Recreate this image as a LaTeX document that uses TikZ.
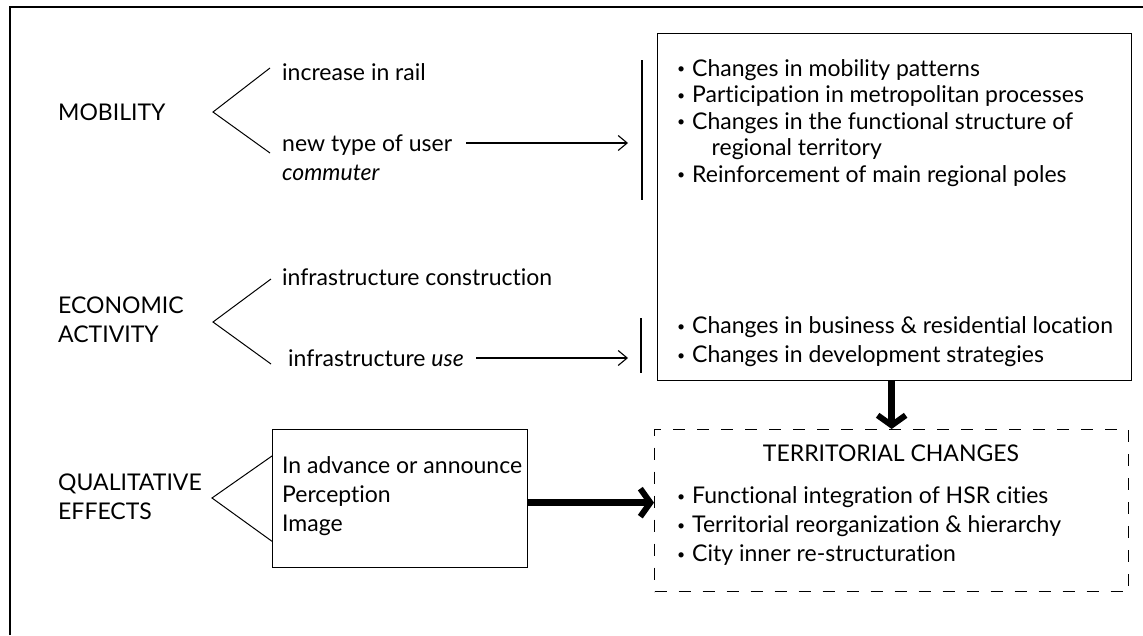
\documentclass[tikz,border=0pt]{standalone}
\usepackage{xcolor}
\usepackage{fontspec}
\setmainfont{Lato}[Ligatures=NoCommon]
\usetikzlibrary{shapes, arrows.meta, positioning}

\newcommand{\dotitem}{\raisebox{2.5pt}{\fontsize{14}{14}\selectfont\textbullet}\hspace{0.3em}}

\tikzset{
  thin arrow/.style={-{Straight Barb[length=9pt,width=15pt]}, line width=1.1pt},
  big arrow/.style={-{Straight Barb[length=10pt,width=28pt,line width=6pt]}, line width=7pt},
  forkline/.style={line width=1pt},
  barline/.style={line width=1.3pt},
}

\begin{document}
\begin{tikzpicture}[x=1pt,y=-1pt]
        \useasboundingbox (0,0) rectangle (1143,635);
        % only the top and left sides of the frame are in the picture
        \draw[line width=2.5pt] (10,635) -- (10,7) -- (1143,7);
        \begin{scope}[every node/.style={draw,line width=1.3pt,inner sep=0pt,anchor=north west}]
          \node[minimum width=474pt,minimum height=347pt] (imp) at (657,33) {};
          \node[minimum width=255pt,minimum height=138pt] (qbox) at (272,429) {};
          \node[dash pattern=on 12pt off 12pt,minimum width=474pt,minimum height=162pt] (terr) at (654,429) {};
        \end{scope}
        \begin{scope}[every node/.style={font=\fontsize{23}{29}\selectfont,inner sep=0pt,align=left,anchor=west}]
          \node (mob) at (58,112) {MOBILITY};
          \node (rail) at (282,72) {increase in rail};
          \node (user) at (282,145) {new type of user};
          \node (comm) at (282,173) {\itshape commuter};
          \node (eco) at (58,320) {ECONOMIC\\ACTIVITY};
          \node (cons) at (282,277) {infrastructure construction};
          \node (use) at (288,358) {infrastructure \textit{use}};
          \node (qual) at (58,497) {QUALITATIVE\\EFFECTS};
          \node (adv) at (282,496) {In advance or announce\\Perception\\Image};
          \node[font=\fontsize{23}{26.5}\selectfont] (list1) at (677,123) {%
            \dotitem Changes in mobility patterns\\
            \dotitem Participation in metropolitan processes\\
            \dotitem Changes in the functional structure of\\
            \hspace*{1.5em}regional territory\\
            \dotitem Reinforcement of main regional poles};
          \node (list2) at (677,342) {%
            \dotitem Changes in business \& residential location\\
            \dotitem Changes in development strategies};
          \node[anchor=center] (title) at (891,453) {TERRITORIAL CHANGES};
          \node (list3) at (677,526) {%
            \dotitem Functional integration of HSR cities\\
            \dotitem Territorial reorganization \& hierarchy\\
            \dotitem City inner re-structuration};
        \end{scope}
        % forks
        \coordinate (mf) at (213,112);
        \coordinate (ef) at (213,322);
        \coordinate (qf) at (212,498);
        \draw[forkline] ([xshift=-12pt,yshift=4pt]rail.west) -- (mf) -- ([xshift=-12pt,yshift=-8pt]user.west);
        \draw[forkline] ([xshift=-11pt,yshift=-2pt]cons.west) -- (ef) -- ([xshift=-17pt,yshift=-6pt]use.west);
        \draw[forkline] ([yshift=-27pt]qbox.north west) -- (qf) -- ([yshift=27pt]qbox.south west);
        % bars and thin arrows
        \coordinate (mb1) at (642,60);
        \coordinate (mb2) at (642,200);
        \coordinate (eb1) at (641,318);
        \coordinate (eb2) at (641,373);
        \draw[barline] (mb1) -- (mb2);
        \draw[barline] (eb1) -- (eb2);
        \draw[thin arrow] ([xshift=14pt,yshift=2pt]user.east) -- ([xshift=-14pt,yshift=2pt]user.east -| mb1);
        \draw[thin arrow] ([xshift=12pt]use.east) -- ([xshift=-13pt]use.east -| eb1);
        % thick arrows
        \draw[big arrow] (imp.south -| terr.north) -- (terr.north);
        \draw[big arrow] ([yshift=-4pt]qbox.east) -- ([yshift=-4pt]qbox.east -| terr.west);
      \end{tikzpicture}
\end{document}
